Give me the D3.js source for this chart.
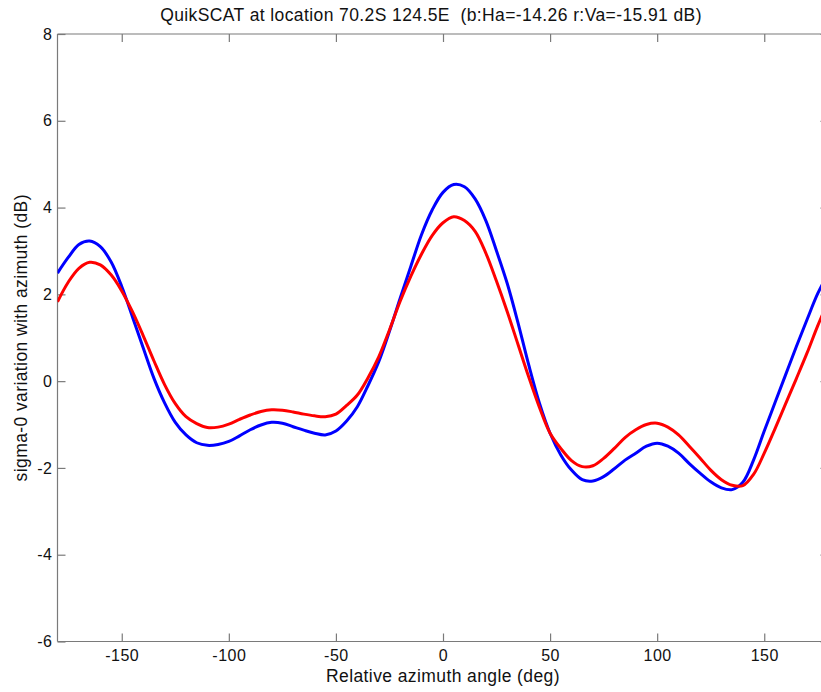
<!DOCTYPE html>
<html>
<head>
<meta charset="utf-8">
<script src="https://cdn.jsdelivr.net/npm/d3@7"></script>
<style>
  html, body { margin: 0; padding: 0; background: #fff; }
  svg { display: block; }
  text { font-family: "Liberation Sans", Arial, Helvetica, sans-serif; fill: #111; }
</style>
</head>
<body>
<svg id="chart" width="821" height="692"></svg>
<script>
// Relative azimuth angle (deg), sampled every 5 degrees
const angles = d3.range(-180, 181, 5);

// sigma-0 variation with azimuth (dB), H-pol (blue)
const hPol = [
  2.49, 2.85, 3.15, 3.23, 3.10, 2.75, 2.18, 1.48, 0.77, 0.07,
  -0.50, -0.95, -1.24, -1.42, -1.48, -1.46, -1.39, -1.26, -1.12, -1.01,
  -0.95, -0.97, -1.05, -1.13, -1.20, -1.24, -1.15, -0.92, -0.59, -0.10,
  0.45, 1.15, 1.91, 2.65, 3.38, 3.95, 4.35, 4.53, 4.48, 4.20,
  3.70, 3.00, 2.25, 1.35, 0.38, -0.50, -1.20, -1.70, -2.05, -2.27,
  -2.30, -2.20, -2.02, -1.82, -1.66, -1.50, -1.43, -1.50, -1.66, -1.90,
  -2.12, -2.32, -2.46, -2.50, -2.33, -1.82, -1.15, -0.50, 0.15, 0.80,
  1.42, 2.02, 2.49
];

// sigma-0 variation with azimuth (dB), V-pol (red)
const vPol = [
  1.83, 2.28, 2.60, 2.74, 2.68, 2.45, 2.08, 1.60, 1.05, 0.47,
  -0.08, -0.52, -0.82, -0.98, -1.07, -1.06, -0.99, -0.88, -0.78, -0.70,
  -0.66, -0.67, -0.71, -0.76, -0.80, -0.82, -0.76, -0.56, -0.32, 0.08,
  0.56, 1.18, 1.84, 2.42, 2.93, 3.36, 3.65, 3.79, 3.70, 3.45,
  2.95, 2.30, 1.60, 0.85, 0.10, -0.60, -1.20, -1.55, -1.83, -1.97,
  -1.95, -1.78, -1.55, -1.30, -1.12, -1.00, -0.97, -1.06, -1.24, -1.50,
  -1.77, -2.05, -2.27, -2.40, -2.41, -2.15, -1.66, -1.10, -0.52, 0.06,
  0.65, 1.28, 1.85
];

const xTicks = [-150, -100, -50, 0, 50, 100, 150];
const yTicks = [-6, -4, -2, 0, 2, 4, 6, 8];

const titleText = "QuikSCAT at location 70.2S 124.5E  (b:Ha=-14.26 r:Va=-15.91 dB)";
const xLabel = "Relative azimuth angle (deg)";
const yLabel = "sigma-0 variation with azimuth (dB)";

const svg = d3.select("#chart");
const plotLeft = 57.5, plotRight = 828.5, plotTop = 34, plotBottom = 641.5;

const x = d3.scaleLinear().domain([-180, 180]).range([plotLeft, plotRight]);
const y = d3.scaleLinear().domain([-6, 8]).range([plotBottom, plotTop]);

const axisColor = "#7a7a7a";
const tickLen = 8;
const labelFont = { size: "17.5px", spacing: "0.4px" };

// clip region for the curves
svg.append("defs").append("clipPath").attr("id", "plot-clip")
  .append("rect").attr("x", plotLeft).attr("y", plotTop)
  .attr("width", plotRight - plotLeft).attr("height", plotBottom - plotTop);

// axes on all four sides, ticks pointing inward; plain hyphen for negatives
const fmt = d => String(d);
const gB = svg.append("g").attr("transform", `translate(0,${plotBottom})`)
  .call(d3.axisBottom(x).tickValues(xTicks).tickSize(-tickLen).tickPadding(8).tickFormat(fmt));
const gT = svg.append("g").attr("transform", `translate(0,${plotTop})`)
  .call(d3.axisTop(x).tickValues(xTicks).tickSize(-tickLen).tickFormat(""));
const gL = svg.append("g").attr("transform", `translate(${plotLeft},0)`)
  .call(d3.axisLeft(y).tickValues(yTicks).tickSize(-tickLen).tickPadding(5).tickFormat(fmt));
const gR = svg.append("g").attr("transform", `translate(${plotRight},0)`)
  .call(d3.axisRight(y).tickValues(yTicks).tickSize(-tickLen).tickFormat(""));

[gB, gT, gL, gR].forEach(g => {
  g.select(".domain").attr("stroke", axisColor).attr("stroke-width", 1.2);
  g.selectAll(".tick line").attr("stroke", axisColor).attr("stroke-width", 1.2);
  g.selectAll(".tick text").attr("fill", "#111")
    .style("font-family", "'Liberation Sans', Arial, sans-serif")
    .style("font-size", "16px")
    .style("letter-spacing", "0.5px");
});
// plain frame lines without the outer tick stubs
[gB, gT].forEach(g => g.select(".domain").attr("d", `M${plotLeft},0H${plotRight}`));
[gL, gR].forEach(g => g.select(".domain").attr("d", `M0,${plotBottom}V${plotTop}`));

// curves
const line = d3.line()
  .x((d, i) => x(angles[i]))
  .y(d => y(d))
  .curve(d3.curveCatmullRom.alpha(0.5));

const curves = svg.append("g").attr("clip-path", "url(#plot-clip)");
curves.append("path").datum(hPol)
  .attr("d", line).attr("fill", "none")
  .attr("stroke", "#0000ff").attr("stroke-width", 3).attr("stroke-linejoin", "round");
curves.append("path").datum(vPol)
  .attr("d", line).attr("fill", "none")
  .attr("stroke", "#ff0000").attr("stroke-width", 3).attr("stroke-linejoin", "round");

// title and axis labels
svg.append("text").attr("x", 431).attr("y", 21)
  .attr("text-anchor", "middle")
  .style("white-space", "pre")
  .style("font-size", labelFont.size).style("letter-spacing", labelFont.spacing)
  .text(titleText);
svg.append("text").attr("x", (plotLeft + plotRight) / 2).attr("y", 682)
  .attr("text-anchor", "middle")
  .style("font-size", labelFont.size).style("letter-spacing", labelFont.spacing)
  .text(xLabel);
svg.append("text")
  .attr("transform", `translate(27,${(plotTop + plotBottom) / 2}) rotate(-90)`)
  .attr("text-anchor", "middle")
  .style("font-size", labelFont.size).style("letter-spacing", labelFont.spacing)
  .text(yLabel);
</script>
</body>
</html>
